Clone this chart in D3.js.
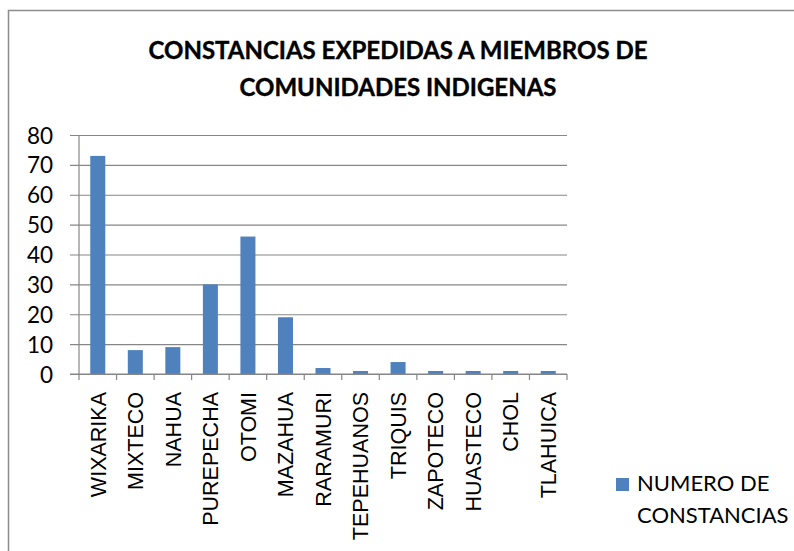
<!DOCTYPE html>
<html>
<head>
<meta charset="utf-8">
<script src="https://cdn.jsdelivr.net/npm/d3@7"></script>
<style>
  body { margin: 0; background: #fff; }
  svg { display: block; }
</style>
</head>
<body>
<div class="content"></div>
<script>
var svgWidth = 794;
var svgHeight = 551;

// Chart data.
var categories = ["WIXARIKA", "MIXTECO", "NAHUA", "PUREPECHA", "OTOMI", "MAZAHUA", "RARAMURI",
                  "TEPEHUANOS", "TRIQUIS", "ZAPOTECO", "HUASTECO", "CHOL", "TLAHUICA"];
var values = [73, 8, 9, 30, 46, 19, 2, 1, 4, 1, 1, 1, 1];
var yTicks = [0, 10, 20, 30, 40, 50, 60, 70, 80];
var titleLines = ["CONSTANCIAS EXPEDIDAS A MIEMBROS DE", "COMUNIDADES INDIGENAS"];
var legendLines = ["NUMERO DE", "CONSTANCIAS"];

var barColor = "#4F81BD";
var gridColor = "#868686";

var plot = {left: 79, right: 567, top: 135, bottom: 374};

var svg = d3.select(".content")
  .append("svg")
    .attr("width", svgWidth)
    .attr("height", svgHeight);

// Outer chart border (runs off the right and bottom edges).
svg.append("rect")
  .attr("x", 8.5)
  .attr("y", 10.5)
  .attr("width", svgWidth + 20)
  .attr("height", svgHeight + 20)
  .attr("fill", "none")
  .attr("stroke", "#8c8c8c")
  .attr("stroke-width", 1.5);

// Title.
svg.append("text")
  .attr("text-anchor", "middle")
  .attr("font-family", "Lato, 'Open Sans', sans-serif")
  .attr("font-weight", "bold")
  .attr("font-size", 24)
  .attr("stroke", "#000")
  .attr("stroke-width", 0.4)
  .attr("fill", "#000")
  .selectAll("tspan")
  .data(titleLines)
  .join("tspan")
    .attr("x", 398)
    .attr("y", function(d, i) { return 59 + i * 37; })
    .text(function(d) { return d; });

var x = d3.scaleBand()
  .domain(categories)
  .range([plot.left, plot.right])
  .paddingInner(0.6)
  .paddingOuter(0.3);

var y = d3.scaleLinear()
  .domain([0, 80])
  .range([plot.bottom, plot.top]);

// Horizontal gridlines with y ticks extending left.
var yAxis = svg.append("g")
  .attr("transform", "translate(" + plot.left + ",0)")
  .call(d3.axisLeft(y).tickValues(yTicks).tickSize(-(plot.right - plot.left)).tickSizeOuter(0).tickPadding(26));
yAxis.select(".domain").remove();
yAxis.selectAll(".tick line")
  .attr("x1", -9)
  .attr("stroke", gridColor)
  .attr("stroke-width", 1.2);
yAxis.selectAll(".tick text")
  .attr("font-family", "Lato, 'Open Sans', sans-serif")
  .attr("font-size", 22.5)
  .attr("fill", "#000")
  .attr("dy", "0.36em");

// Vertical axis line.
svg.append("line")
  .attr("x1", plot.left).attr("x2", plot.left)
  .attr("y1", plot.top).attr("y2", plot.bottom)
  .attr("stroke", gridColor)
  .attr("stroke-width", 1.2);

// Bars.
svg.append("g")
  .selectAll("rect")
  .data(values)
  .join("rect")
    .attr("x", function(d, i) { return x(categories[i]); })
    .attr("y", function(d) { return y(d); })
    .attr("width", x.bandwidth())
    .attr("height", function(d) { return y(0) - y(d); })
    .attr("fill", barColor);

// Category axis: ticks between categories.
var boundaries = d3.range(categories.length + 1).map(function(i) { return plot.left + i * (plot.right - plot.left) / categories.length; });
svg.append("line")
  .attr("x1", plot.left - 9).attr("x2", plot.right)
  .attr("y1", plot.bottom).attr("y2", plot.bottom)
  .attr("stroke", gridColor)
  .attr("stroke-width", 1.2);
svg.append("g")
  .selectAll("line")
  .data(boundaries)
  .join("line")
    .attr("x1", function(d) { return d; })
    .attr("x2", function(d) { return d; })
    .attr("y1", plot.bottom)
    .attr("y2", plot.bottom + 6)
    .attr("stroke", gridColor)
    .attr("stroke-width", 1.2);

// Rotated category labels.
svg.append("g")
  .selectAll("text")
  .data(categories)
  .join("text")
    .attr("transform", function(d) {
      return "translate(" + (x(d) + x.bandwidth() / 2) + "," + (plot.bottom + 18) + ") rotate(-90)";
    })
    .attr("text-anchor", "end")
    .attr("dy", "0.36em")
    .attr("font-family", "'Liberation Sans', Arial, sans-serif")
    .attr("font-size", 21.5)
    .attr("fill", "#000")
    .text(function(d) { return d; });

// Legend.
svg.append("rect")
  .attr("x", 616)
  .attr("y", 478)
  .attr("width", 13)
  .attr("height", 13)
  .attr("fill", barColor);
svg.append("text")
  .attr("font-family", "Lato, 'Open Sans', sans-serif")
  .attr("font-size", 22)
  .attr("fill", "#000")
  .selectAll("tspan")
  .data(legendLines)
  .join("tspan")
    .attr("x", 637)
    .attr("y", function(d, i) { return 491 + i * 32; })
    .text(function(d) { return d; });
</script>
</body>
</html>
